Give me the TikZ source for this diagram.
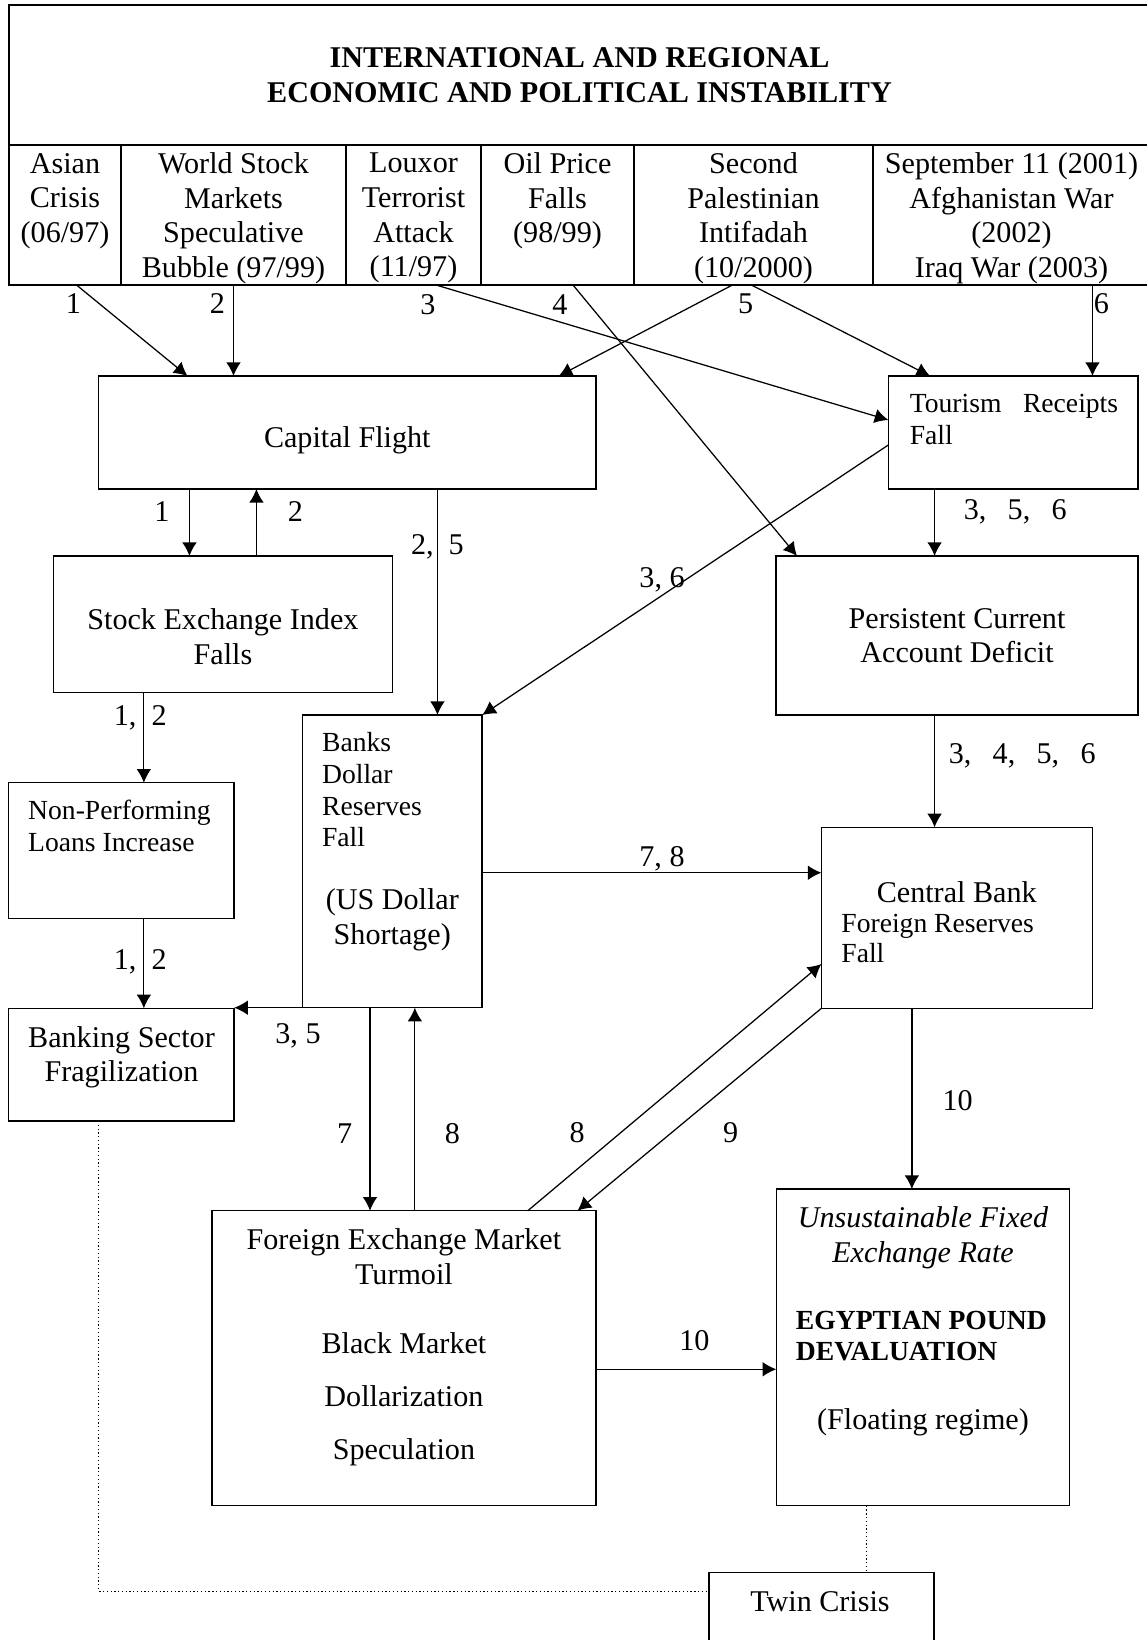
\documentclass[tikz,border=0pt]{standalone}
\usepackage{fontspec}
\setmainfont{Liberation Serif}
\usetikzlibrary{arrows.meta,positioning}

\tikzset{
  box/.style={draw, rectangle, line width=0.6pt, anchor=north west, inner sep=1pt, outer sep=0pt, align=center, font=\fontsize{12}{13.8}\selectfont},
  cell/.style={box, minimum height=1.96cm, text depth=0pt},
  txt/.style={inner sep=0pt, align=center, font=\fontsize{12}{13.8}\selectfont},
  smalltxt/.style={inner sep=0pt, anchor=west, align=left, font=\fontsize{11}{12.6}\selectfont},
  lab/.style={inner sep=0pt, font=\fontsize{12}{13.8}\selectfont}
}

\begin{document}
\begin{tikzpicture}[>={Latex[length=5.4pt,width=5.8pt]}, line width=0.5pt]
\useasboundingbox (0,0) rectangle (16.044,-22.96);

% instability and the six shocks
\node[box, minimum width=15.974cm, minimum height=1.96cm, font=\fontsize{12}{13.8}\selectfont\bfseries] (head) at (0.126,-0.07) {INTERNATIONAL AND REGIONAL\\ECONOMIC AND POLITICAL INSTABILITY};
\node[cell, minimum width=1.568cm] (asian) at (0.126,-2.03) {Asian\\Crisis\\(06/97)\\\mbox{}};
\node[cell, minimum width=3.15cm] (world) at (1.694,-2.03) {World Stock\\Markets\\Speculative\\Bubble (97/99)};
\node[cell, minimum width=1.89cm] (louxor) at (4.844,-2.03) {Louxor\\Terrorist\\Attack\\(11/97)};
\node[cell, minimum width=2.142cm] (oil) at (6.734,-2.03) {Oil Price\\Falls\\(98/99)\\\mbox{}};
\node[cell, minimum width=3.346cm] (second) at (8.876,-2.03) {Second\\Palestinian\\Intifadah\\(10/2000)};
\node[cell, minimum width=3.878cm] (sept) at (12.222,-2.03) {September 11 (2001)\\Afghanistan War\\(2002)\\Iraq War (2003)};

% boxes
\node[box, minimum width=6.961cm, minimum height=1.582cm] (cap) at (1.382,-5.264) {};
\node[box, minimum width=3.496cm, minimum height=1.582cm] (tour) at (12.436,-5.264) {};
\node[box, minimum width=4.742cm, minimum height=1.908cm] (sei) at (0.75,-7.784) {};
\node[box, minimum width=5.068cm, minimum height=2.226cm] (pcad) at (10.864,-7.784) {Persistent Current\\Account Deficit};
\node[box, minimum width=2.519cm, minimum height=4.098cm] (banks) at (4.232,-10.01) {};
\node[box, minimum width=3.161cm, minimum height=1.898cm] (npl) at (0.118,-10.958) {};
\node[box, minimum width=3.794cm, minimum height=2.534cm] (cbfr) at (11.5,-11.582) {};
\node[box, minimum width=3.161cm, minimum height=1.578cm] (bsf) at (0.118,-14.116) {};
\node[box, minimum width=5.373cm, minimum height=4.13cm] (fx) at (2.968,-16.95) {};
\node[box, minimum width=4.103cm, minimum height=4.434cm] (dev) at (10.868,-16.646) {};
\node[box, minimum width=3.153cm, minimum height=1.1cm] (twin) at (9.926,-22.012) {};

% box texts
\node[txt] (captxt) at (4.862,-6.16) {Capital Flight};
\node[txt] (seitxt) at (3.121,-8.914) {Stock Exchange Index\\Falls};
\node[txt] (bsftxt) at (1.701,-14.8) {Banking Sector\\Fragilization};
\node[smalltxt] (npltxt) at (0.386,-11.563) {Non-Performing\\Loans Increase};
\node[smalltxt] (bankstxt) at (4.501,-11.059) {Banks\\Dollar\\Reserves\\Fall};
\node[txt] (usdtxt) at (5.492,-12.879) {(US Dollar\\Shortage)};
\node[smalltxt, text width=2.916cm] (tourtxt) at (12.729,-5.869) {Tourism\hfill Receipts\\Fall};
\node[txt] (cbtxt) at (13.394,-12.484) {Central Bank};
\node[smalltxt, font=\fontsize{11}{12}\selectfont] (frtxt) at (11.771,-13.136) {Foreign Reserves\\Fall};
\node[txt] (fxtxt) at (5.655,-18.86) {Foreign Exchange Market\\Turmoil\\[13.8pt]Black Market\\[7.2pt]Dollarization\\[7.2pt]Speculation};
\node[txt, font=\fontsize{12}{13.8}\selectfont\itshape] (devrate) at (12.922,-17.33) {Unsustainable Fixed\\Exchange Rate};
\node[smalltxt, font=\fontsize{11}{12.6}\selectfont\bfseries] (devpound) at (11.134,-18.703) {EGYPTIAN POUND\\DEVALUATION};
\node[txt] (devfloat) at (12.922,-19.91) {(Floating regime)};
\node[txt] (twintxt) at (11.48,-22.424) {Twin Crisis};

% shocks to first effects
\draw[->] ([xshift=0.161cm]asian.south) -- node[lab, pos=0.2, left=0.24cm] (l1) {1} ([xshift=1.243cm]cap.north west);
\draw[->] (world.south) -- node[lab, pos=0.2, left=0.11cm] (l2) {2} (world.south |- cap.north);
\draw[->] ([xshift=0.315cm]louxor.south) -- node[lab, pos=0, anchor=north east, yshift=-0.12cm] (l3) {3} ([yshift=0.175cm]tour.west);
\draw[->] ([xshift=0.217cm]oil.south) -- node[lab, pos=0, anchor=north east, xshift=-0.07cm, yshift=-0.12cm] (l4) {4} ([xshift=0.294cm]pcad.north west);
\draw[->] ([xshift=-0.295cm]second.south) -- ([xshift=-0.521cm]cap.north east);
\draw[->] ([xshift=-0.03cm]second.south) -- node[lab, pos=0, anchor=north, xshift=-0.08cm, yshift=-0.12cm] (l5) {5} ([xshift=0.584cm]tour.north west);
\coordinate (t6) at ([xshift=1.133cm]sept.south);
\draw[->] (t6) -- node[lab, pos=0.2, right=0.01cm] (l6) {6} (t6 |- tour.north);

% capital flight and stock market
\coordinate (t1) at ([xshift=1.27cm]cap.south west);
\coordinate (t2) at ([xshift=2.208cm]cap.south west);
\coordinate (t25) at ([xshift=4.742cm]cap.south west);
\draw[->] (t1) -- node[lab, pos=0.34, left=0.27cm] (l1b) {1} (t1 |- sei.north);
\draw[->] (t2 |- sei.north) -- node[lab, pos=0.66, right=0.43cm] (l2b) {2} (t2);
\draw[->] (t25) -- node[lab, pos=0.255] (l25) {2,\hspace{6pt}5} (t25 |- banks.north);

% banking sector
\coordinate (t12) at ([xshift=1.264cm]sei.south west);
\draw[->] (t12) -- node[lab, pos=0.284, xshift=-0.05cm] (l12a) {1,\hspace{6pt}2} (t12 |- npl.north);
\draw[->] (t12 |- npl.south) -- node[lab, pos=0.48, xshift=-0.05cm] (l12b) {1,\hspace{6pt}2} (t12 |- bsf.north);
\draw[->] (banks.south west) -- node[lab, pos=0.063, below=0.21cm] (l35) {3, 5} (banks.south west -| bsf.east);

% tourism and current account
\coordinate (t356) at ([xshift=-1.1cm]tour.south);
\draw[->] (t356) -- node[lab, pos=0.34, right=0.4cm] (l356) {3,\hspace{8.5pt}5,\hspace{8.5pt}6} (t356 |- pcad.north);
\draw[->] ([yshift=-0.175cm]tour.west) -- node[lab, pos=0.5, anchor=east] (l36) {3, 6} (banks.north east);
\draw[->] (t356 |- pcad.south) -- node[lab, pos=0.36, right=0.19cm] (l3456) {3,\hspace{8.5pt}4,\hspace{8.5pt}5,\hspace{8.5pt}6} (t356 |- cbfr.north);

% dollar shortage and reserves
\coordinate (t78) at ([yshift=-0.159cm]banks.east);
\draw[->] (t78) -- node[lab, pos=0.53, above=0.02cm] (l78) {7, 8} (t78 -| cbfr.west);
\coordinate (t7) at ([xshift=0.948cm]banks.south west);
\coordinate (t8) at ([xshift=1.576cm]banks.south west);
\draw[->] (t7) -- node[lab, pos=0.62, left=0.24cm] (l7) {7} (t7 |- fx.north);
\draw[->] (t8 |- fx.north) -- node[lab, pos=0.38, right=0.41cm] (l8) {8} (t8);
\draw[->] ([xshift=4.421cm]fx.north west) -- node[lab, pos=0.315, left=0.49cm] (l8b) {8} ([yshift=-0.647cm]cbfr.west);
\draw[->] (cbfr.south west) -- node[lab, pos=0.616, right=0.72cm] (l9) {9} ([xshift=-0.256cm]fx.north east);

% devaluation
\coordinate (t10) at ([xshift=1.266cm]cbfr.south west);
\draw[->] (t10) -- node[lab, pos=0.51, right=0.42cm] (l10) {10} (t10 |- dev.north);
\coordinate (t10b) at ([yshift=-0.155cm]fx.east);
\draw[->] (t10b) -- node[lab, pos=0.546, above=0.25cm] (l10b) {10} (t10b -| dev.west);

% twin crisis
\coordinate (tb) at ([xshift=1.264cm]bsf.south west);
\coordinate (td) at ([xshift=1.259cm]dev.south west);
\draw[densely dotted] (tb) |- ([yshift=0.286cm]twin.west);
\draw[densely dotted] (td) -- (td |- twin.north);
\end{tikzpicture}
\end{document}
